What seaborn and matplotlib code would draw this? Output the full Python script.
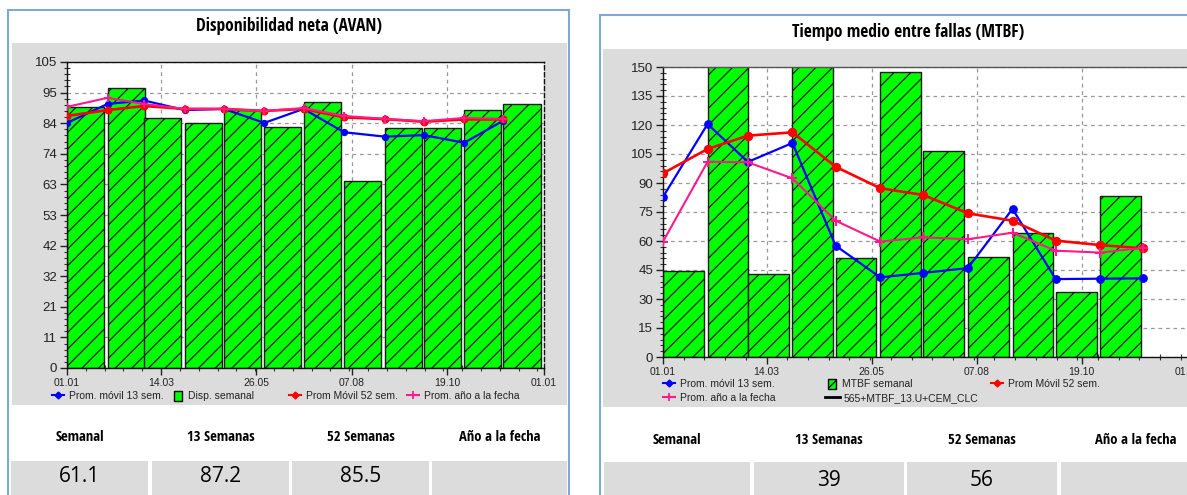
import datetime as dt
import numpy as np
import matplotlib
matplotlib.use("Agg")
import matplotlib.pyplot as plt
import seaborn as sns
from matplotlib.patches import Rectangle, Patch
from matplotlib.lines import Line2D
from matplotlib.ticker import AutoMinorLocator, FixedLocator, FixedFormatter
from matplotlib import font_manager

# ---------------------------------------------------------------- data
# start of each monthly period (dd.mm)
inicio_mes = ["01.01", "01.02", "01.03", "01.04", "01.05", "01.06",
              "01.07", "01.08", "01.09", "01.10", "01.11", "01.12"]
# dates shown on the x axis
fechas_eje = ["01.01", "14.03", "26.05", "07.08", "19.10", "01.01"]

# Disponibilidad neta (AVAN)
disp_semanal = [89.5, 96.1, 85.8, 84.1, 88.5, 82.7, 91.3, 64.0, 82.3, 82.4, 88.5, 90.6]
disp_movil13 = [84.1, 90.6, 91.8, 88.5, 88.9, 84.1, 88.9, 80.9, 79.4, 79.9, 77.3, 84.9]
disp_movil52 = [86.5, 88.5, 89.9, 88.9, 88.9, 88.2, 88.9, 86.0, 85.4, 84.5, 85.3, 85.3]
disp_anio = [89.6, 92.7, 90.6, 88.9, 88.9, 88.2, 89.2, 86.5, 85.5, 84.7, 85.8, 85.5]
disp_ticks_y = [0, 11, 21, 32, 42, 53, 63, 74, 84, 95, 105]

# Tiempo medio entre fallas (MTBF)
mtbf_semanal = [44.5, 178.0, 42.8, 172.0, 51.0, 147.5, 106.7, 51.9, 64.3, 33.5, 83.3]
mtbf_movil13 = [82.8, 120.5, 100.9, 110.7, 57.6, 41.2, 43.5, 46.0, 76.6, 40.3, 40.5, 40.7]
mtbf_movil52 = [95.0, 107.6, 114.5, 116.2, 98.4, 87.3, 83.8, 74.3, 70.5, 60.2, 57.9, 56.2]
mtbf_anio = [59.7, 101.0, 100.7, 92.4, 70.5, 59.7, 61.9, 60.9, 64.3, 55.0, 54.0, 56.5]
mtbf_ticks_y = [0, 15, 30, 45, 60, 75, 90, 105, 120, 135, 150]

# summary table
encabezados = ["Semanal", "13 Semanas", "52 Semanas", "Año a la fecha"]
resumen_disp = ["61.1", "87.2", "85.5", ""]
resumen_mtbf = ["", "39", "56", ""]

# ---------------------------------------------------------------- helpers
W, H, DPI = 1187, 495, 100


def pick_font(families):
    for fam in families:
        try:
            font_manager.findfont(font_manager.FontProperties(family=fam),
                                  fallback_to_default=False)
            return fam
        except Exception:
            continue
    return "DejaVu Sans"


def narrow_font(weight):
    """Return FontProperties for a condensed sans face, if one is installed."""
    want_bold = weight == "bold"
    prefs = ["Liberation Sans Narrow", "Open Sans", "Noto Sans", "DejaVu Sans", "Roboto"]
    cands = []
    for f in font_manager.fontManager.ttflist:
        fn = f.fname.lower()
        st = str(f.stretch).lower()
        is_narrow = ("narrow" in fn or "condensed" in fn or "narrow" in f.name.lower()
                     or "condensed" in st)
        if not is_narrow or "semicondensed" in fn or "extracondensed" in fn:
            continue
        w = f.weight if isinstance(f.weight, (int, float)) else \
            font_manager.weight_dict.get(str(f.weight), 400)
        bold = w >= 600
        if bold != want_bold or "italic" in fn or "oblique" in fn or f.style != "normal":
            continue
        rank = next((i for i, p in enumerate(prefs) if f.name.startswith(p)), len(prefs))
        cands.append((rank, f.fname))
    if cands:
        cands.sort()
        return font_manager.FontProperties(fname=cands[0][1])
    fam = pick_font(["Lato", "Liberation Sans", "DejaVu Sans"])
    return font_manager.FontProperties(family=fam, weight=weight)


FONT_TICK = pick_font(["Liberation Sans", "Arial", "DejaVu Sans"])
FONT_VALUE = pick_font(["Open Sans", "Lato", "Liberation Sans"])
FP_BOLD = narrow_font("bold")


def fp(base, size):
    p = base.copy()
    p.set_size(size)
    return p


def dias(fechas, anio=2023):
    """Convert dd.mm strings into day offsets from 1 January (monotonic)."""
    out, prev = [], -1
    origen = dt.date(anio, 1, 1)
    for f in fechas:
        d, m = (int(v) for v in f.split("."))
        n = (dt.date(anio, m, d) - origen).days
        while n <= prev:
            n += 365
        out.append(n)
        prev = n
    return np.array(out, dtype=float)


def px_rect(x0, y0, x1, y1, **kw):
    return Rectangle((x0 / W, 1 - y1 / H), (x1 - x0) / W, (y1 - y0) / H,
                     transform=fig.transFigure, **kw)


def px_axes(x0, y0, x1, y1):
    return fig.add_axes([x0 / W, 1 - y1 / H, (x1 - x0) / W, (y1 - y0) / H])


def px_text(x, y, s, **kw):
    fig.text(x / W, 1 - y / H, s, ha="center", va="center", **kw)


GREEN = "#00FF00"
BLUE = "#0000FF"
RED = "#FF0000"
PINK = "#FF1A8C"
GREY = "#DCDCDC"
FRAME = "#7FA7D8"
TXT = "#222222"

plt.rcParams["hatch.linewidth"] = 0.9

fig = plt.figure(figsize=(W / DPI, H / DPI), dpi=DPI, facecolor="white")

# panel frames, grey plot zones and table cells
fig.add_artist(px_rect(8, 10, 569, 520, facecolor="white", edgecolor=FRAME, lw=1.5, zorder=-10))
fig.add_artist(px_rect(600, 15, 1230, 520, facecolor="white", edgecolor=FRAME, lw=1.5, zorder=-10))
fig.add_artist(px_rect(12, 43, 567, 405, facecolor=GREY, edgecolor="none", zorder=-9))
fig.add_artist(px_rect(603, 49, 1230, 407, facecolor=GREY, edgecolor="none", zorder=-9))

celdas_izq = [(11, 148), (152, 289), (292, 429), (432, 567)]
celdas_der = [(604, 750), (754, 904), (907, 1057), (1061, 1211)]
for (a, b) in celdas_izq:
    fig.add_artist(px_rect(a, 461, b, 520, facecolor=GREY, edgecolor="none", zorder=-9))
for (a, b) in celdas_der:
    fig.add_artist(px_rect(a, 462, b, 520, facecolor=GREY, edgecolor="none", zorder=-9))

px_text(288.5, 26, "Disponibilidad neta (AVAN)", fontproperties=fp(FP_BOLD, 12.5), color="black")
px_text(908, 32, "Tiempo medio entre fallas (MTBF)", fontproperties=fp(FP_BOLD, 12.5), color="black")

for (a, b), h, v in zip(celdas_izq, encabezados, resumen_disp):
    px_text((a + b) / 2, 437, h, fontproperties=fp(FP_BOLD, 10.5), color="black")
    px_text((a + b) / 2, 477, v, family=FONT_VALUE, fontsize=15, color="black")
for (a, b), h, v in zip(celdas_der, encabezados, resumen_mtbf):
    px_text((a + b) / 2, 440, h, fontproperties=fp(FP_BOLD, 10.5), color="black")
    px_text((a + b) / 2, 481, v, family=FONT_VALUE, fontsize=15, color="black")

# ---------------------------------------------------------------- charts
x_mes = dias(inicio_mes)
x_eje = dias(fechas_eje)
ANCHO = 28.4  # bar width in days


def chart(ax, semanal, movil13, movil52, anio, yticks, ymax, msize):
    n = len(semanal)
    centros = x_mes[:n] + ANCHO / 2
    native = np.min(np.diff(centros))
    sns.barplot(x=centros, y=semanal, native_scale=True, width=ANCHO / native,
                color=GREEN, saturation=1, edgecolor="#1A1A1A", linewidth=1.0,
                hatch="//", errorbar=None, ax=ax, zorder=2)
    sns.lineplot(x=x_mes, y=movil13, ax=ax, color=BLUE, linewidth=1.6,
                 marker="o", markersize=msize, markeredgecolor=BLUE,
                 legend=False, zorder=4)
    sns.lineplot(x=x_mes, y=movil52, ax=ax, color=RED, linewidth=1.9,
                 marker="o", markersize=msize + 0.5, markeredgecolor=RED,
                 legend=False, zorder=5)
    sns.lineplot(x=x_mes, y=anio, ax=ax, color=PINK, linewidth=1.5,
                 marker="+", markersize=msize + 1, markeredgewidth=1.5,
                 markeredgecolor=PINK, legend=False, zorder=6)

    ax.set_xlim(x_eje[0], x_eje[-1])
    ax.set_ylim(0, ymax)
    ax.set_facecolor("white")
    ax.set_xlabel("")
    ax.set_ylabel("")

    ax.xaxis.set_major_locator(FixedLocator(x_eje))
    ax.xaxis.set_major_formatter(FixedFormatter(fechas_eje))
    ax.yaxis.set_major_locator(FixedLocator(np.linspace(0, ymax, len(yticks))))
    ax.yaxis.set_major_formatter(FixedFormatter([str(t) for t in yticks]))
    ax.xaxis.set_minor_locator(AutoMinorLocator(5))
    ax.yaxis.set_minor_locator(AutoMinorLocator(5))

    ax.tick_params(axis="both", which="major", direction="out", length=5,
                   width=1, color="#222222", pad=2)
    ax.tick_params(axis="both", which="minor", direction="inout", length=4,
                   width=0.8, color="#333333")
    ax.tick_params(axis="y", labelsize=9.5, labelcolor=TXT)
    ax.tick_params(axis="x", labelsize=7.5, labelcolor=TXT)
    for lab in ax.get_xticklabels() + ax.get_yticklabels():
        lab.set_family(FONT_TICK)

    ax.set_axisbelow(True)
    ax.grid(True, which="major", linestyle=(0, (3, 3)), color="#999999", linewidth=0.9)
    for s in ax.spines.values():
        s.set_color("#111111")
        s.set_linewidth(1.0)


ax1 = px_axes(67, 62, 544, 368)
chart(ax1, disp_semanal, disp_movil13, disp_movil52, disp_anio, disp_ticks_y, 105, 4.5)
ax1.spines["right"].set_linestyle((0, (3, 2)))

ax2 = px_axes(663, 67, 1188, 357)
chart(ax2, mtbf_semanal, mtbf_movil13, mtbf_movil52, mtbf_anio, mtbf_ticks_y, 150, 5.5)
ax2.spines["top"].set_color("#555555")

# ---------------------------------------------------------------- legends
leg_font = dict(family=FONT_TICK, size=7.5)


def leyenda(handle, label, x, y, hl=1.15, hh=0.7, pad=0.45):
    lg = fig.legend([handle], [label], loc="center left",
                    bbox_to_anchor=(x / W, 1 - y / H), frameon=False,
                    borderpad=0, borderaxespad=0, handletextpad=pad,
                    handlelength=hl, handleheight=hh, prop=leg_font,
                    labelcolor=TXT)
    return lg


h_azul = Line2D([], [], color=BLUE, lw=1.5, marker="D", markersize=3.5)
h_rojo = Line2D([], [], color=RED, lw=1.5, marker="D", markersize=3.5)
h_rosa = Line2D([], [], color=PINK, lw=1.5, marker="+", markersize=6, markeredgewidth=1.3)
h_barra = Patch(facecolor=GREEN, edgecolor="black", hatch="//", lw=1.0)
h_negro = Line2D([], [], color="black", lw=2.0)

leyenda(h_azul, "Prom. móvil 13 sem.", 52, 396)
leyenda(h_barra, "Disp. semanal", 174, 396, hl=0.75, hh=1.15, pad=0.55)
leyenda(h_rojo, "Prom Móvil 52 sem.", 289, 396)
leyenda(h_rosa, "Prom. año a la fecha", 407, 396)

leyenda(h_azul, "Prom. móvil 13 sem.", 663, 384)
leyenda(h_barra, "MTBF semanal", 828, 384, hl=0.75, hh=1.15, pad=0.55)
leyenda(h_rojo, "Prom Móvil 52 sem.", 991, 384)
leyenda(h_rosa, "Prom. año a la fecha", 663, 398)
leyenda(h_negro, "565+MTBF_13.U+CEM_CLC", 825, 398, hl=1.4, pad=0.4)

fig.savefig("out.png", dpi=DPI, facecolor="white")
